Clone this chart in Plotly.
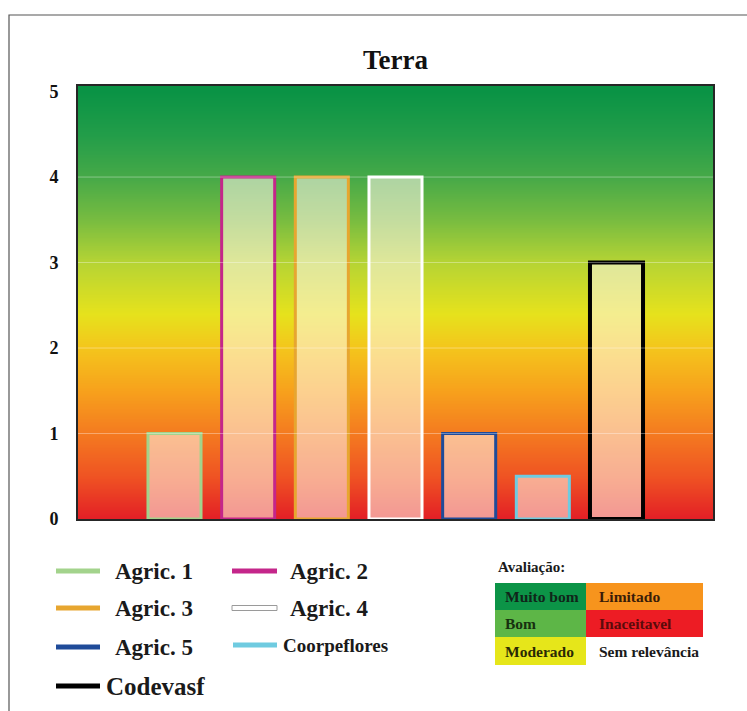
import numpy as np
import plotly.graph_objects as go

# --- data -------------------------------------------------------------
categories = ["Agric. 1", "Agric. 2", "Agric. 3", "Agric. 4",
              "Agric. 5", "Coorpeflores", "Codevasf"]
values = [1, 4, 4, 4, 1, 0.5, 3]
outline_colors = ["#a3d38c", "#c4268a", "#e7a630", "#ffffff",
                  "#1f4b99", "#6fcbe0", "#000000"]
outline_widths = [3, 3, 3, 3, 3, 3, 4]
y_ticks = [0, 1, 2, 3, 4, 5]

rating_labels = ["Muito bom", "Limitado", "Bom", "Inaceitavel",
                 "Moderado", "Sem relevância"]
rating_fill = ["#0c9447", "#f7941d", "#5db647", "#ed1c24",
               "#e6e61a", "#ffffff"]
rating_text = ["#10251a", "#3a1c08", "#17300f", "#5a0b0b",
               "#2a2a05", "#1a1a1a"]

# background scale: red (0) -> orange -> yellow -> green (5)
bg_scale = [
    [0.00, "#e31e26"], [0.10, "#ef5323"], [0.20, "#f47a20"],
    [0.30, "#f7a11c"], [0.40, "#f4c51c"], [0.48, "#e6e21c"],
    [0.60, "#b6d434"], [0.70, "#78bc40"], [0.80, "#46a948"],
    [0.90, "#229d49"], [1.00, "#0a9345"],
]

SERIF = "Liberation Serif"
W, H = 747, 711
L, R, T, B = 78, 713, 86, 519          # plot area in pixels


def px(x):
    return (x - L) / (R - L)


def py(y):
    return (B - y) / (B - T)


fig = go.Figure()

# gradient background
bg_y = np.linspace(-0.3, 5.4, 300)
fig.add_trace(go.Heatmap(
    x=[-2, 8], y=bg_y, z=[[v, v] for v in bg_y],
    colorscale=bg_scale, zmin=0, zmax=5, zsmooth="best",
    showscale=False, hoverinfo="skip",
))

# bars
fig.add_trace(go.Bar(
    x=list(range(len(categories))), y=values,
    width=0.72, hovertext=categories,
    marker=dict(color="rgba(255,246,234,0.56)",
                line=dict(color=outline_colors, width=outline_widths)),
    showlegend=False,
))

shapes = []
# faint grid lines over the gradient
for t in y_ticks[1:-1]:
    shapes.append(dict(type="line", xref="paper", yref="y", x0=0, x1=1,
                       y0=t, y1=t, layer="above",
                       line=dict(color="rgba(255,255,255,0.35)", width=1)))

# outer frame
shapes.append(dict(type="rect", xref="paper", yref="paper",
                   x0=px(9), x1=px(780), y0=py(15), y1=py(760),
                   line=dict(color="#555555", width=1.2),
                   fillcolor="rgba(0,0,0,0)", layer="below"))

annotations = [dict(text="<b>Terra</b>", xref="paper", yref="paper",
                    x=0.5, y=py(60), xanchor="center", yanchor="middle",
                    showarrow=False,
                    font=dict(family=SERIF, size=27, color="#111111"))]

# legend: line samples and names
legend_items = [
    # (line x0, line x1, row y, text x, font size)
    (56, 100, 571, 113, 23),
    (232, 277, 571, 288, 23),
    (56, 100, 608, 113, 23),
    (232, 277, 608, 288, 23),
    (56, 100, 647, 113, 23),
    (233, 277, 645, 281, 19),
    (56, 100, 686, 104, 25),
]
for i, (x0, x1, yy, tx, fs) in enumerate(legend_items):
    if outline_colors[i] == "#ffffff":
        shapes.append(dict(type="rect", xref="paper", yref="paper",
                           x0=px(x0), x1=px(x1), y0=py(yy - 2.5), y1=py(yy + 2.5),
                           fillcolor="#ffffff",
                           line=dict(color="#9a9a9a", width=1)))
    else:
        shapes.append(dict(type="line", xref="paper", yref="paper",
                           x0=px(x0), x1=px(x1), y0=py(yy), y1=py(yy),
                           line=dict(color=outline_colors[i], width=5)))
    annotations.append(dict(text=f"<b>{categories[i]}</b>", xref="paper",
                            yref="paper", x=px(tx), y=py(yy),
                            xanchor="left", yanchor="middle", showarrow=False,
                            font=dict(family=SERIF, size=fs, color="#1a1a1a")))

# rating key
annotations.append(dict(text="<b>Avaliação:</b>", xref="paper", yref="paper",
                        x=px(496), y=py(567), xanchor="left", yanchor="middle",
                        showarrow=False,
                        font=dict(family=SERIF, size=15, color="#1a1a1a")))
col_x = [(495, 586), (586, 703)]
row_y = [(583, 610), (610, 637), (637, 665)]
for k, label in enumerate(rating_labels):
    r, c = divmod(k, 2)
    (cx0, cx1), (ry0, ry1) = col_x[c], row_y[r]
    shapes.append(dict(type="rect", xref="paper", yref="paper",
                       x0=px(cx0), x1=px(cx1), y0=py(ry1), y1=py(ry0),
                       fillcolor=rating_fill[k], line=dict(width=0)))
    annotations.append(dict(text=f"<b>{label}</b>", xref="paper", yref="paper",
                            x=px(cx0 + (8 if c == 0 else 11)),
                            y=py((ry0 + ry1) / 2),
                            xanchor="left", yanchor="middle", showarrow=False,
                            font=dict(family=SERIF, size=15.5,
                                      color=rating_text[k])))

fig.update_layout(
    width=W, height=H,
    margin=dict(l=L, r=W - R, t=T, b=H - B),
    paper_bgcolor="#ffffff", plot_bgcolor="#ffffff",
    shapes=shapes, annotations=annotations,
    showlegend=False,
    xaxis=dict(range=[-1.31, 7.31], showticklabels=False, showgrid=False,
               zeroline=False, showline=True, mirror=True,
               linecolor="#262626", linewidth=1.6, ticks=""),
    yaxis=dict(range=[0, 5.065], tickvals=y_ticks,
               ticktext=[f"<b>{t}</b>" for t in y_ticks],
               tickfont=dict(family=SERIF, size=18, color="#111111"),
               showgrid=False, zeroline=False, showline=True, mirror=True,
               linecolor="#262626", linewidth=1.6, ticks="",
               ticklabelstandoff=14),
)

fig.write_html("out.html")
